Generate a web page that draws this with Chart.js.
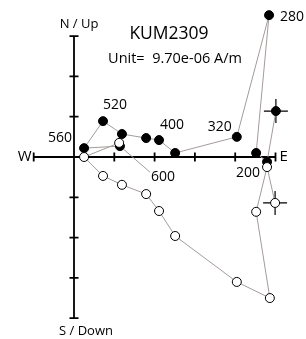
<!DOCTYPE html>
<html>
<head>
<meta charset="utf-8">
<script src="https://cdn.jsdelivr.net/npm/chart.js@4"></script>
<style>
  html, body { margin: 0; padding: 0; background: #fff; }
  canvas { display: block; }
</style>
</head>
<body>
<canvas id="chart" width="306" height="339"></canvas>
<script>
/* ── Data (units of the axis tick = 9.70e-06 A/m) ── */
const steps = ["NRM", "200", "240", "280", "320", "360", "400", "440", "480", "520", "560", "600"];
const stepLabels = ["", "200", "", "280", "320", "", "400", "", "", "520", "560", "600"];
const east = [5.01, 4.79, 4.52, 4.84, 4.04, 2.51, 2.11, 1.79, 1.19, 0.72, 0.25, 1.14];
const north = [1.14, -0.12, 0.10, 3.52, 0.50, 0.10, 0.42, 0.47, 0.57, 0.89, 0.22, 0.27];
const eastV = [4.99, 4.79, 4.52, 4.86, 4.04, 2.51, 2.11, 1.79, 1.19, 0.72, 0.25, 1.12];
const up = [-1.14, -0.25, -1.36, -3.50, -3.10, -1.96, -1.34, -0.92, -0.69, -0.47, 0.00, 0.35];
const xTicks = [-1, 1, 2, 3, 4, 5];
const yTicks = [3, 2, 1, -1, -2, -3, -4];

const LINE = "#a39b99";
const FONT = "'Open Sans', 'DejaVu Sans', sans-serif";

/* ── label offsets in px from the filled point ── */
const labelPos = {
  "200": { dx: -7, dy: 11, align: "right" },
  "280": { dx: 11, dy: 2, align: "left" },
  "320": { dx: -5, dy: -10, align: "right" },
  "400": { dx: 1, dy: -15, align: "left" },
  "520": { dx: 0, dy: -16, align: "left" },
  "560": { dx: -12, dy: -10, align: "right" },
  "600": { dx: 31, dy: 31, align: "left", leader: true }
};

const horiz = east.map((e, i) => ({ x: e, y: north[i] }));
const vert = eastV.map((e, i) => ({ x: e, y: up[i] }));

/* ── Axes (under the data) + text (over it) ── */
const zijAxes = {
  id: "zijAxes",
  beforeDatasetsDraw(chart) {
    const { ctx, scales: { x, y } } = chart;
    const x0 = x.getPixelForValue(0), y0 = y.getPixelForValue(0);
    ctx.save();
    ctx.strokeStyle = "#000";
    ctx.lineWidth = 1.8;
    ctx.beginPath();
    ctx.moveTo(x.getPixelForValue(-1), y0);
    ctx.lineTo(x.getPixelForValue(5), y0);
    ctx.moveTo(x0, y.getPixelForValue(3));
    ctx.lineTo(x0, y.getPixelForValue(-4));
    xTicks.forEach(t => {
      const px = x.getPixelForValue(t);
      ctx.moveTo(px, y0 - 4.5);
      ctx.lineTo(px, y0 + 4.5);
    });
    yTicks.forEach(t => {
      const py = y.getPixelForValue(t);
      ctx.moveTo(x0 - 4.5, py);
      ctx.lineTo(x0 + 4.5, py);
    });
    ctx.stroke();

    // leader line for the 600 label
    ctx.strokeStyle = LINE;
    ctx.lineWidth = 1;
    steps.forEach((s, i) => {
      const lp = labelPos[stepLabels[i]];
      if (!lp || !lp.leader) return;
      const px = x.getPixelForValue(east[i]), py = y.getPixelForValue(north[i]);
      ctx.beginPath();
      ctx.moveTo(px, py);
      ctx.lineTo(px + lp.dx - 1, py + lp.dy - 5);
      ctx.stroke();
    });
    ctx.restore();
  },
  afterDatasetsDraw(chart) {
    const { ctx, scales: { x, y } } = chart;
    const x0 = x.getPixelForValue(0), y0 = y.getPixelForValue(0);
    ctx.save();
    ctx.fillStyle = "#000";
    ctx.textBaseline = "middle";

    ctx.font = "15px " + FONT;
    ctx.textAlign = "right";
    ctx.fillText("W", x.getPixelForValue(-1) - 2, y0);
    ctx.textAlign = "left";
    ctx.fillText("E", x.getPixelForValue(5) + 4, y0);

    ctx.font = "13px " + FONT;
    ctx.textAlign = "center";
    ctx.fillText("N / Up", x0 + 5, y.getPixelForValue(3) - 12);
    ctx.fillText("S / Down", x0 + 12, y.getPixelForValue(-4) + 13);

    ctx.font = "17.5px " + FONT;
    ctx.fillText("KUM2309", 169, 34);
    ctx.font = "14.5px " + FONT;
    ctx.fillText("Unit=  9.70e-06 A/m", 175, 59);

    ctx.font = "14px " + FONT;
    steps.forEach((s, i) => {
      const lp = labelPos[stepLabels[i]];
      if (!lp) return;
      const px = x.getPixelForValue(east[i]), py = y.getPixelForValue(north[i]);
      ctx.textAlign = lp.align;
      ctx.fillText(stepLabels[i], px + lp.dx, py + lp.dy);
    });
    ctx.restore();
  }
};

/* ── Chart: one unit = 40.3 px, origin at (74, 157) ── */
const PX = 40.3;
new Chart(document.getElementById("chart"), {
  type: "scatter",
  data: {
    datasets: [
      {
        label: "Vertical",
        data: vert,
        showLine: true,
        borderColor: LINE,
        borderWidth: 1,
        pointRadius: 4.5,
        pointBackgroundColor: "#fff",
        pointBorderColor: "#000",
        pointBorderWidth: 1,
        clip: false,
        order: 1
      },
      {
        label: "Horizontal",
        data: horiz,
        showLine: true,
        borderColor: LINE,
        borderWidth: 1,
        pointRadius: 4.5,
        pointBackgroundColor: "#000",
        pointBorderColor: "#000",
        pointBorderWidth: 1,
        clip: false,
        order: 2
      },
      {
        label: "NRM",
        data: [horiz[0], vert[0]],
        showLine: false,
        pointStyle: "cross",
        pointRadius: 12,
        pointBorderColor: "#000",
        pointBorderWidth: 1.2,
        clip: false,
        order: 3
      }
    ]
  },
  options: {
    responsive: false,
    animation: false,
    layout: { padding: 0, autoPadding: false },
    plugins: { legend: { display: false }, tooltip: { enabled: false } },
    scales: {
      x: { type: "linear", display: false, min: -74 / PX, max: (306 - 74) / PX },
      y: { type: "linear", display: false, min: -(339 - 157) / PX, max: 157 / PX }
    }
  },
  plugins: [zijAxes]
});
</script>
</body>
</html>
